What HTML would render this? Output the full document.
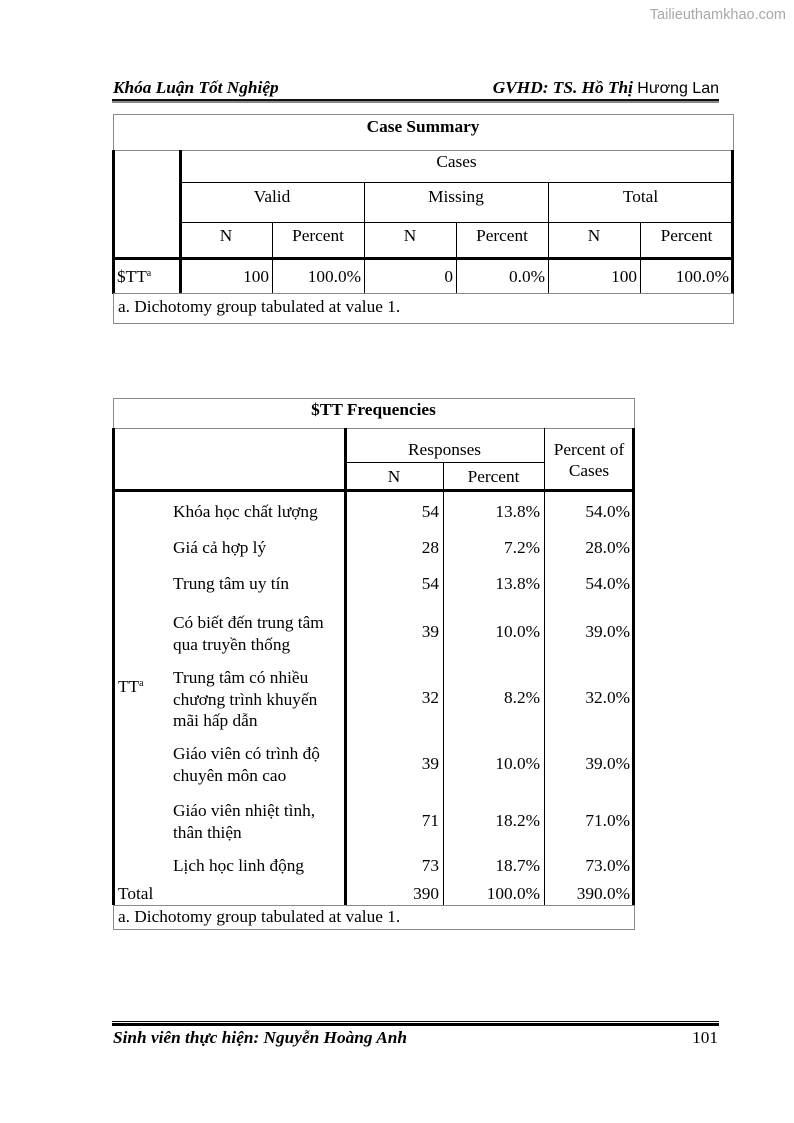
<!DOCTYPE html>
<html>
<head>
<meta charset="utf-8">
<style>
  html, body { margin:0; padding:0; }
  body { width:794px; height:1123px; position:relative; background:#fff; overflow:hidden;
         font-family:"Liberation Serif", "DejaVu Serif", serif; color:#000; }
  .t { position:absolute; font-size:17.3px; line-height:18px; white-space:nowrap; }
  .c { text-align:center; }
  .r { text-align:right; }
  .l { position:absolute; background:#000; }
  .g { position:absolute; background:#8a8a8a; }
  sup { font-size:10px; vertical-align:6px; line-height:0; }
  .bi { font-weight:bold; font-style:italic; }
</style>
</head>
<body>

<!-- watermark -->
<div class="t" style="left:640px; width:146px; top:6px; text-align:right; font-family:'Liberation Sans', sans-serif; font-size:14.5px; color:#a8a8a8;">Tailieuthamkhao.com</div>

<!-- header -->
<div class="t bi" style="left:113px; top:79px;">Khóa Luận Tốt Nghiệp</div>
<div class="t" style="left:420px; width:299px; top:79px; text-align:right;"><span class="bi">GVHD: TS. Hồ Thị</span> <span style="font-family:'Liberation Sans', sans-serif; font-size:16px;">Hương Lan</span></div>
<div class="l" style="left:112px; top:99px; width:607px; height:2px; background:#111;"></div>
<div class="l" style="left:112px; top:101px; width:607px; height:2px; background:#888;"></div>

<!-- ===== Case Summary table ===== -->
<div class="g" style="left:113px; top:114px; width:620px; height:1px;"></div>
<div class="g" style="left:113px; top:114px; width:1px; height:210px;"></div>
<div class="g" style="left:733px; top:114px; width:1px; height:210px;"></div>
<div class="g" style="left:113px; top:150px; width:620px; height:1px;"></div>
<div class="g" style="left:113px; top:323px; width:621px; height:1px;"></div>
<div class="l" style="left:112px; top:150px; width:3px; height:144px;"></div>
<div class="l" style="left:179px; top:150px; width:3px; height:144px;"></div>
<div class="l" style="left:731px; top:150px; width:3px; height:144px;"></div>
<div class="l" style="left:112px; top:257px; width:622px; height:3px;"></div>
<div class="g" style="left:113px; top:293px; width:620px; height:1px;"></div>
<div class="l" style="left:180px; top:182px; width:553px; height:1px;"></div>
<div class="l" style="left:180px; top:222px; width:553px; height:1px;"></div>
<div class="l" style="left:364px; top:183px; width:1px; height:110px;"></div>
<div class="l" style="left:548px; top:183px; width:1px; height:110px;"></div>
<div class="l" style="left:272px; top:222px; width:1px; height:71px;"></div>
<div class="l" style="left:456px; top:222px; width:1px; height:71px;"></div>
<div class="l" style="left:640px; top:222px; width:1px; height:71px;"></div>

<div class="t c" style="left:113px; width:620px; top:118px; font-weight:bold;">Case Summary</div>
<div class="t c" style="left:180px; width:553px; top:153px;">Cases</div>
<div class="t c" style="left:180px; width:184px; top:188px;">Valid</div>
<div class="t c" style="left:364px; width:184px; top:188px;">Missing</div>
<div class="t c" style="left:548px; width:185px; top:188px;">Total</div>
<div class="t c" style="left:180px; width:92px; top:227px;">N</div>
<div class="t c" style="left:272px; width:92px; top:227px;">Percent</div>
<div class="t c" style="left:364px; width:92px; top:227px;">N</div>
<div class="t c" style="left:456px; width:92px; top:227px;">Percent</div>
<div class="t c" style="left:548px; width:92px; top:227px;">N</div>
<div class="t c" style="left:640px; width:93px; top:227px;">Percent</div>

<div class="t" style="left:117px; top:268px;">$TT<sup>a</sup></div>
<div class="t r" style="left:180px; width:89px; top:268px;">100</div>
<div class="t r" style="left:272px; width:89px; top:268px;">100.0%</div>
<div class="t r" style="left:364px; width:89px; top:268px;">0</div>
<div class="t r" style="left:456px; width:89px; top:268px;">0.0%</div>
<div class="t r" style="left:548px; width:89px; top:268px;">100</div>
<div class="t r" style="left:640px; width:89px; top:268px;">100.0%</div>
<div class="t" style="left:118px; top:298px;">a. Dichotomy group tabulated at value 1.</div>

<!-- ===== $TT Frequencies table ===== -->
<div class="g" style="left:113px; top:398px; width:521px; height:1px;"></div>
<div class="g" style="left:113px; top:398px; width:1px; height:531px;"></div>
<div class="g" style="left:634px; top:398px; width:1px; height:531px;"></div>
<div class="g" style="left:113px; top:428px; width:521px; height:1px;"></div>
<div class="g" style="left:113px; top:905px; width:521px; height:1px;"></div>
<div class="g" style="left:113px; top:929px; width:522px; height:1px;"></div>
<div class="l" style="left:112px; top:428px; width:3px; height:477px;"></div>
<div class="l" style="left:344px; top:428px; width:3px; height:477px;"></div>
<div class="l" style="left:632px; top:428px; width:3px; height:477px;"></div>
<div class="l" style="left:112px; top:489px; width:523px; height:3px;"></div>
<div class="l" style="left:345px; top:462px; width:199px; height:1px;"></div>
<div class="l" style="left:443px; top:462px; width:1px; height:443px;"></div>
<div class="l" style="left:544px; top:428px; width:1px; height:477px;"></div>

<div class="t c" style="left:113px; width:521px; top:401px; font-weight:bold;">$TT Frequencies</div>
<div class="t c" style="left:345px; width:199px; top:441px;">Responses</div>
<div class="t c" style="left:544px; width:90px; top:441px;">Percent of</div>
<div class="t c" style="left:544px; width:90px; top:462px;">Cases</div>
<div class="t c" style="left:345px; width:98px; top:468px;">N</div>
<div class="t c" style="left:443px; width:101px; top:468px;">Percent</div>

<div class="t" style="left:118px; top:678px;">TT<sup>a</sup></div>

<div class="t" style="left:173px; top:503px;">Khóa học chất lượng</div>
<div class="t r" style="left:345px; width:94px; top:503px;">54</div>
<div class="t r" style="left:443px; width:97px; top:503px;">13.8%</div>
<div class="t r" style="left:544px; width:86px; top:503px;">54.0%</div>

<div class="t" style="left:173px; top:539px;">Giá cả hợp lý</div>
<div class="t r" style="left:345px; width:94px; top:539px;">28</div>
<div class="t r" style="left:443px; width:97px; top:539px;">7.2%</div>
<div class="t r" style="left:544px; width:86px; top:539px;">28.0%</div>

<div class="t" style="left:173px; top:575px;">Trung tâm uy tín</div>
<div class="t r" style="left:345px; width:94px; top:575px;">54</div>
<div class="t r" style="left:443px; width:97px; top:575px;">13.8%</div>
<div class="t r" style="left:544px; width:86px; top:575px;">54.0%</div>

<div class="t" style="left:173px; top:612px; line-height:21.5px;">Có biết đến trung tâm<br>qua truyền thống</div>
<div class="t r" style="left:345px; width:94px; top:623px;">39</div>
<div class="t r" style="left:443px; width:97px; top:623px;">10.0%</div>
<div class="t r" style="left:544px; width:86px; top:623px;">39.0%</div>

<div class="t" style="left:173px; top:667px; line-height:21.5px;">Trung tâm có nhiều<br>chương trình khuyến<br>mãi hấp dẫn</div>
<div class="t r" style="left:345px; width:94px; top:689px;">32</div>
<div class="t r" style="left:443px; width:97px; top:689px;">8.2%</div>
<div class="t r" style="left:544px; width:86px; top:689px;">32.0%</div>

<div class="t" style="left:173px; top:743px; line-height:21.5px;">Giáo viên có trình độ<br>chuyên môn cao</div>
<div class="t r" style="left:345px; width:94px; top:755px;">39</div>
<div class="t r" style="left:443px; width:97px; top:755px;">10.0%</div>
<div class="t r" style="left:544px; width:86px; top:755px;">39.0%</div>

<div class="t" style="left:173px; top:800px; line-height:21.5px;">Giáo viên nhiệt tình,<br>thân thiện</div>
<div class="t r" style="left:345px; width:94px; top:812px;">71</div>
<div class="t r" style="left:443px; width:97px; top:812px;">18.2%</div>
<div class="t r" style="left:544px; width:86px; top:812px;">71.0%</div>

<div class="t" style="left:173px; top:857px;">Lịch học linh động</div>
<div class="t r" style="left:345px; width:94px; top:857px;">73</div>
<div class="t r" style="left:443px; width:97px; top:857px;">18.7%</div>
<div class="t r" style="left:544px; width:86px; top:857px;">73.0%</div>

<div class="t" style="left:118px; top:885px;">Total</div>
<div class="t r" style="left:345px; width:94px; top:885px;">390</div>
<div class="t r" style="left:443px; width:97px; top:885px;">100.0%</div>
<div class="t r" style="left:544px; width:86px; top:885px;">390.0%</div>

<div class="t" style="left:118px; top:908px;">a. Dichotomy group tabulated at value 1.</div>

<!-- footer -->
<div class="l" style="left:112px; top:1021px; width:607px; height:1px;"></div>
<div class="l" style="left:112px; top:1023px; width:607px; height:3px;"></div>
<div class="t bi" style="left:113px; top:1029px;">Sinh viên thực hiện: Nguyễn Hoàng Anh</div>
<div class="t r" style="left:600px; width:118px; top:1029px;">101</div>

</body>
</html>
